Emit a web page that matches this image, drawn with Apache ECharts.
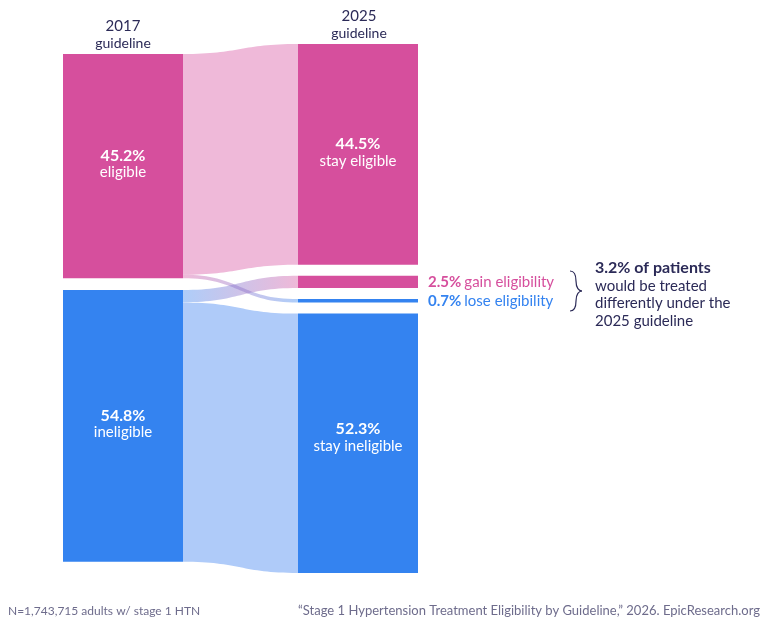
<!DOCTYPE html>
<html><head><meta charset="utf-8">
<script src="https://cdn.jsdelivr.net/npm/echarts@6/dist/echarts.min.js"></script>
<style>html,body{margin:0;background:#fff}#c{width:768px;height:630px}</style>
</head><body><div id="c"></div>
<script>
// nodes
const nodeIds = ['e17', 'i17', 'stayE', 'gainE', 'loseE', 'stayI'];
const nodePct = ['45.2%', '54.8%', '44.5%', '2.5%', '0.7%', '52.3%'];
const nodeText = ['eligible', 'ineligible', 'stay eligible', 'gain eligibility', 'lose eligibility', 'stay ineligible'];
// links
const linkSource = ['e17', 'e17', 'i17', 'i17'];
const linkTarget = ['stayE', 'loseE', 'gainE', 'stayI'];
const linkValue = [44.5, 0.7, 2.5, 52.3];

const PINK = '#d64f9d', BLUE = '#3483f0', NAVY = '#2b2a57', GREY = '#6e6c8c';
const nodeColor = { e17: PINK, i17: BLUE, stayE: PINK, gainE: PINK, loseE: BLUE, stayI: BLUE };
const linkColor = { stayE: '#efb9d9', stayI: '#afcbf9' };
// left column sits a little lower (centred)
const nodeLocalY = { e17: 10 / 529, i17: 246 / 529 };

const chart = echarts.init(document.getElementById('c'));
const insideLabel = off => ({
  show: true, position: 'inside', color: '#fff', fontFamily: 'Lato', offset: off,
  formatter: p => '{b|' + nodePct[nodeIds.indexOf(p.name)] + '}\n{r|' + nodeText[nodeIds.indexOf(p.name)] + '}',
  rich: { b: { fontSize: 16, fontWeight: 'bold', color: '#fff', lineHeight: 17, fontFamily: 'Lato' },
          r: { fontSize: 15, color: '#fff', lineHeight: 17, fontFamily: 'Lato' } }
});
const sideLabel = col => ({
  show: true, position: 'right', distance: 10, fontFamily: 'Lato',
  formatter: p => '{b|' + nodePct[nodeIds.indexOf(p.name)] + '} {r|' + nodeText[nodeIds.indexOf(p.name)] + '}',
  rich: { b: { fontSize: 15, fontWeight: 'bold', color: col, fontFamily: 'Lato' },
          r: { fontSize: 15, color: col, fontFamily: 'Lato' } }
});

const brace = (x1, y1, x2, y2, c1x, c1y, c2x, c2y) => ({
  type: 'bezierCurve',
  shape: { x1, y1, x2, y2, cpx1: c1x, cpy1: c1y, cpx2: c2x, cpy2: c2y },
  style: { stroke: NAVY, lineWidth: 1.2, fill: null }
});

chart.setOption({
  animation: false,
  series: [{
    type: 'sankey',
    left: 63, right: 350, top: 44, bottom: 57,
    nodeWidth: 120, nodeGap: 11,
    layoutIterations: 0,
    emphasis: { disabled: true },
    data: nodeIds.map(id => {
      const d = {
        name: id,
        itemStyle: { color: nodeColor[id], borderWidth: 0 },
        label: (id === 'gainE' || id === 'loseE') ? sideLabel(nodeColor[id]) : insideLabel(id === 'stayI' ? [0, -6] : [0, -2])
      };
      if (nodeLocalY[id] != null) d.localY = nodeLocalY[id];
      return d;
    }),
    links: linkSource.map((s, i) => ({
      source: s, target: linkTarget[i], value: linkValue[i],
      lineStyle: linkColor[linkTarget[i]]
        ? { color: linkColor[linkTarget[i]], opacity: 1, curveness: 0.5 }
        : { color: 'gradient', opacity: 0.4, curveness: 0.5 }
    }))
  }],
  graphic: [
    { type: 'text', x: 123, y: 19, style: { text: '2017', font: '15px Lato', fill: NAVY, align: 'center' } },
    { type: 'text', x: 123, y: 36, style: { text: 'guideline', font: '14px Lato', fill: NAVY, align: 'center' } },
    { type: 'text', x: 359, y: 9, style: { text: '2025', font: '15px Lato', fill: NAVY, align: 'center' } },
    { type: 'text', x: 359, y: 26, style: { text: 'guideline', font: '14px Lato', fill: NAVY, align: 'center' } },
    brace(570, 271, 576, 281, 575, 271, 576, 275),
    brace(576, 281, 582, 291, 576, 288, 579, 291),
    brace(582, 291, 576, 301, 579, 291, 576, 294),
    brace(576, 301, 570, 311, 576, 307, 575, 311),
    { type: 'text', x: 595, y: 260, style: { text: '3.2% of patients', font: 'bold 16px Lato', fill: NAVY } },
    { type: 'text', x: 595, y: 277, style: { text: 'would be treated\ndifferently under the\n2025 guideline', font: '15px Lato', fill: NAVY, lineHeight: 17.5 } },
    { type: 'text', x: 8, y: 605, style: { text: 'N=1,743,715 adults w/ stage 1 HTN', font: '12px Lato', fill: GREY } },
    { type: 'text', x: 760, y: 604, style: { text: '\u201cStage 1 Hypertension Treatment Eligibility by Guideline,\u201d 2026. EpicResearch.org', font: '13px Lato', fill: GREY, align: 'right' } }
  ]
});
</script></body></html>
